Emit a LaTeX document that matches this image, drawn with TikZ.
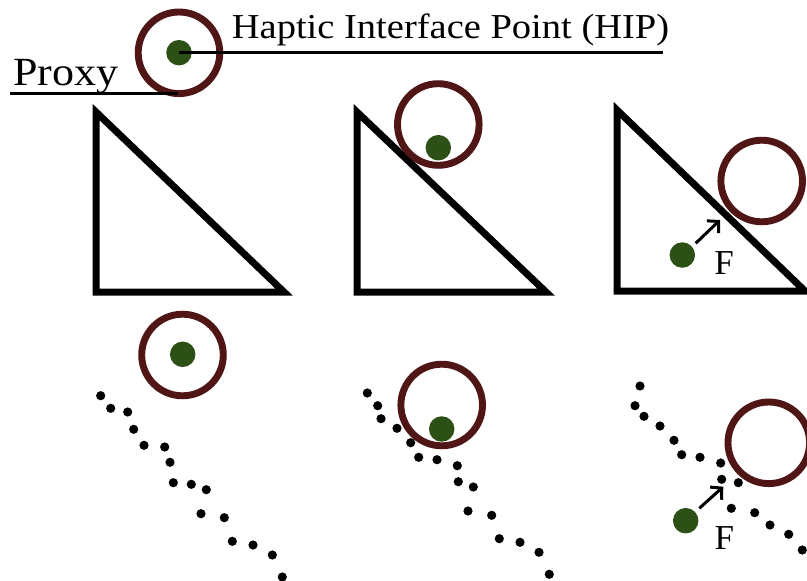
\documentclass[tikz,border=0pt]{standalone}
\usepackage{fontspec}
\setmainfont{Liberation Serif}
\usetikzlibrary{arrows.meta}
\definecolor{ringred}{HTML}{4F1615}
\definecolor{dotgreen}{HTML}{2D5016}
\begin{document}
\begin{tikzpicture}[x=1pt,y=-1pt,
  ring/.style={circle,draw=ringred,line width=6.9pt,minimum size=81.6pt,inner sep=0pt},
  hip/.style={circle,fill=dotgreen,minimum size=25.5pt,inner sep=0pt},
  wall/.style={line width=7pt,line join=miter},
  surfpt/.style={circle,fill=black,minimum size=9.2pt,inner sep=0pt},
  force/.style={line width=3pt,-{Straight Barb[length=8pt,width=17pt,line width=3pt]}},
  lbl/.style={font=\fontsize{35}{40}\selectfont,inner sep=0pt},
  leader/.style={line width=3pt}]
\useasboundingbox (0,0) rectangle (807,581);

% ---------- top-left: legend ----------
\node[ring] (proxy0) at (179,52.8) {};
\node[hip] (hip0) at (179,52.7) {};
\node[lbl,anchor=base west] (hiplbl) at (231.7,38.3) {\scalebox{1.1}[1]{Haptic Interface Point (HIP)}};
\node[lbl,anchor=base west,font=\fontsize{40}{44}\selectfont] (proxylbl) at (13,85) {\scalebox{1.1}[1]{Proxy}};
\coordinate (hipend) at (663,52.7);
\coordinate (proxystart) at (10,93.5);
\coordinate (proxyend) at (178,93.5);
\draw[leader] (hip0.center) -- (hipend);
\draw[leader] (proxystart) -- (proxyend);

% ---------- triangles ----------
\draw[wall] (96,112) -- (96,292) -- (284,292) -- cycle;
\draw[wall] (357,112) -- (357,292) -- (546,292) -- cycle;
\draw[wall] (617,110) -- (617,291) -- (805,291) -- cycle;

\node[ring] (proxy2) at (438.3,124.5) {};
\node[hip] (hip2) at (438.3,147.7) {};

\node[ring] (proxy3) at (761.7,181) {};
\node[hip] (hip3) at (682.3,255) {};
\coordinate (f3end) at (720,220);
\draw[force] (695.7,243.3) -- (f3end);
\node[lbl] (f3) at (724,263.5) {F};

% ---------- dotted surfaces ----------
\node[ring] (proxy4) at (182.5,355) {};
\node[hip] (hip4) at (182.7,354.3) {};
\foreach \x/\y in {100.7/395.7,110.7/408.3,127.7/412,133.7/429.3,144/445.3,164.7/447,170/462.3,173.3/482.7,191.3/484.3,206.3/489.7,201/513.7,224.3/517.7,232.3/541.3,253/545,272.3/555,282.3/577}
  \node[surfpt] at (\x,\y) {};

\foreach \x/\y in {367.3/393,377.7/405.7,381/418.7,397/428.3,410.7/442.7,418.7/457.3,437/459.7,457.3/465.7,458.3/481.7,473.3/487,468/511,491.7/515.3,499.3/538.7,520/542.3,539/552.3,549.3/574.3}
  \node[surfpt] at (\x,\y) {};
\node[ring] (proxy5) at (441.7,405) {};
\node[hip] (hip5) at (441.7,429) {};

\foreach \x/\y in {640/386,635/405.7,644/416.3,660/426,674/440.3,681.7/454.7,700/457.3,720.7/463,721.7/479.3,738.3/482.7,731.3/508.3,754.7/512.7,770/525,788.7/534.3,802.3/550}
  \node[surfpt] at (\x,\y) {};
\node[ring] (proxy6) at (768.8,442.8) {};
\node[hip] (hip6) at (685.7,520.7) {};
\coordinate (f6end) at (723.3,486.7);
\draw[force] (699.3,508.3) -- (f6end);
\node[lbl] (f6) at (724.3,538.5) {F};
\end{tikzpicture}
\end{document}
